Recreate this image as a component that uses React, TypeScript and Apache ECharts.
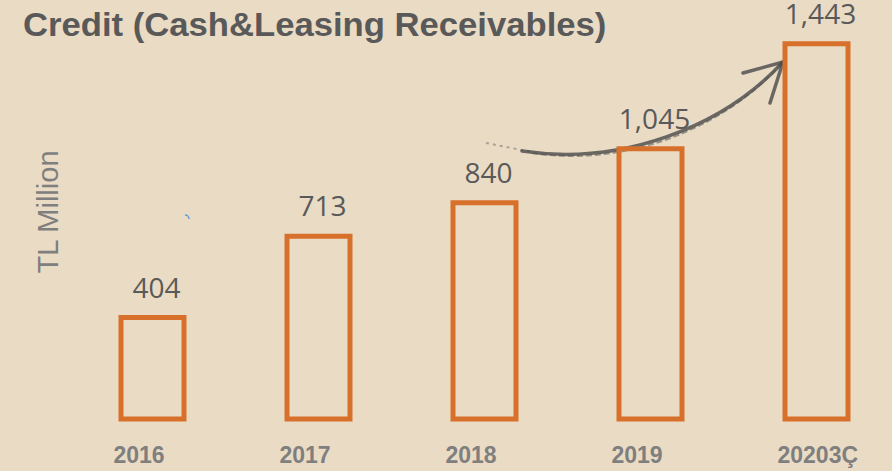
import React, { useEffect, useRef } from "react";
import * as echarts from "echarts";

const categories = ["2016", "2017", "2018", "2019", "20203Ç"];
const values = [404, 713, 840, 1045, 1443];
const valueLabels = ["404", "713", "840", "1,045", "1,443"];

const BG = "#eadbc4";
const ORANGE = "#d7702b";

export default function App() {
  const ref = useRef<HTMLDivElement>(null);
  useEffect(() => {
    if (!ref.current) return;
    const chart = echarts.init(ref.current, undefined, { renderer: "svg" });
    chart.setOption({
      animation: false,
      backgroundColor: BG,
      grid: { left: 69.5, width: 830, top: 0, height: 421.5, outerBoundsMode: "none", containLabel: false },
      xAxis: {
        type: "category",
        data: categories,
        axisLine: { show: false },
        axisTick: { show: false },
        axisLabel: {
          margin: 21.5,
          align: "center",
          formatter: (v: string) => "{a|" + v + "}",
          rich: {
            a: {
              width: 78,
              align: "left",
              color: "#7f7f7f",
              fontFamily: "Liberation Sans, Arial, sans-serif",
              fontWeight: "bold",
              fontSize: 23,
              lineHeight: 23,
            },
          },
        },
      },
      yAxis: {
        type: "value",
        min: 0,
        max: 1600,
        show: false,
        splitLine: { show: false },
      },
      series: [
        {
          type: "bar",
          data: values,
          barWidth: 68,
          itemStyle: { color: "rgba(0,0,0,0)", borderColor: ORANGE, borderWidth: 5 },
          label: {
            show: true,
            position: "top",
            distance: 16.5,
            offset: [4, 0],
            color: "#595959",
            fontFamily: "Open Sans, Noto Sans, sans-serif",
            fontSize: 28,
            lineHeight: 24,
            formatter: (p: any) => valueLabels[p.dataIndex],
          },
        },
      ],
      graphic: [
        {
          type: "text",
          x: 23,
          y: 24,
          scaleX: 1.05,
          style: {
            text: "Credit (Cash&Leasing Receivables)",
            fill: "#595959",
            font: "bold 33px 'Liberation Sans', Arial, sans-serif",
            align: "left",
            verticalAlign: "middle",
          },
        },
        {
          type: "text",
          x: 48,
          y: 212,
          rotation: Math.PI / 2,
          style: {
            text: "TL Million",
            fill: "#7f7f7f",
            font: "29px 'Liberation Sans', Arial, sans-serif",
            align: "center",
            verticalAlign: "middle",
          },
        },
        {
          type: "line",
          shape: { x1: 486, y1: 143, x2: 532, y2: 152 },
          style: { stroke: "#6a6a6a", lineWidth: 2, lineDash: [3, 4], opacity: 0.5 },
        },
        {
          type: "bezierCurve",
          shape: { x1: 522, y1: 151, x2: 783, y2: 62, cpx1: 620, cpy1: 166, cpx2: 722, cpy2: 128 },
          style: { stroke: "#4a4a4a", lineWidth: 3.5, fill: null, lineCap: "round", opacity: 0.8 },
        },
        {
          type: "bezierCurve",
          shape: { x1: 532, y1: 153, x2: 781, y2: 64, cpx1: 625, cpy1: 167, cpx2: 722, cpy2: 130 },
          style: { stroke: "#555", lineWidth: 2, fill: null, lineDash: [6, 3], opacity: 0.55 },
        },
        {
          type: "polyline",
          shape: { points: [[743, 73], [783, 62], [770, 103]] },
          style: { stroke: "#4a4a4a", lineWidth: 3.5, fill: null, lineCap: "round", lineJoin: "round", opacity: 0.8 },
        },
        {
          type: "arc",
          shape: { cx: 185, cy: 219, r: 4, startAngle: -Math.PI / 2, endAngle: 0, clockwise: true },
          style: { stroke: "#5b9bd5", lineWidth: 1.5, fill: null },
        },
      ],
    });
    return () => chart.dispose();
  }, []);
  return (
    <div
      ref={ref}
      style={{ position: "absolute", left: 0, top: 0, width: 892, height: 471 }}
    />
  );
}
